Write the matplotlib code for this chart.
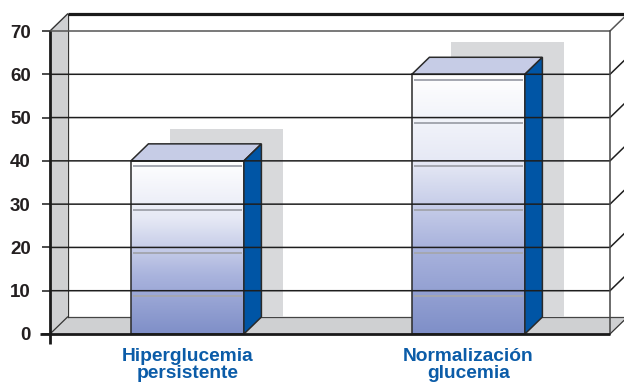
import numpy as np
import matplotlib
matplotlib.use("Agg")
import matplotlib.pyplot as plt
from matplotlib.patches import Polygon, Rectangle
from matplotlib.colors import LinearSegmentedColormap
import matplotlib.transforms as mtransforms

# ---- data ----
categories = ["Hiperglucemia\npersistente", "Normalización\nglucemia"]
values = [40, 60]
yticks = [0, 10, 20, 30, 40, 50, 60, 70]

plt.rcParams['font.family'] = ['Liberation Sans', 'DejaVu Sans']

W_PX, H_PX = 624, 383
fig = plt.figure(figsize=(W_PX / 100, H_PX / 100), dpi=100)
fig.patch.set_facecolor('white')
ax = fig.add_axes([50 / W_PX, 49 / H_PX, 560 / W_PX, 303 / H_PX])
X0, X1 = -0.489, 1.504
YMAX = 70
ax.set_xlim(X0, X1)
ax.set_ylim(0, YMAX)
for s in ax.spines.values():
    s.set_visible(False)
ax.patch.set_visible(False)

# style constants (3D depth in data units)
PX_X = (X1 - X0) / 560.0
PX_Y = YMAX / 303.0
DX = 17.5 * PX_X
DY = 17.0 * PX_Y
BW = 113 * PX_X
SHX = 38.7 * PX_X
SHY = 7.4
WALL = '#CFD0D2'
EDGE = '#2a2a2a'

# floor
ax.add_patch(Polygon([(X0, 0), (X1, 0), (X1 + DX, DY), (X0 + DX, DY)],
                     closed=True, fc=WALL, ec='none', zorder=1, clip_on=False))
# left wall
ax.add_patch(Polygon([(X0, 0), (X0, YMAX), (X0 + DX, YMAX + DY), (X0 + DX, DY)],
                     closed=True, fc=WALL, ec='none', zorder=1, clip_on=False))
# wall edges
ax.plot([X0 + DX, X1 + DX + 0.1], [DY, DY], color='#444444', lw=0.9, zorder=1.5, clip_on=False)
ax.plot([X0 + DX, X0 + DX], [DY, YMAX + DY], color='#333333', lw=0.9, zorder=1.5, clip_on=False)
ax.plot([X0, X0 + DX], [0, DY], color='#333333', lw=0.9, zorder=1.5, clip_on=False)
ax.plot([X1, X1 + DX], [0, DY], color='#333333', lw=0.9, zorder=1.5, clip_on=False)
ax.plot([X0, X0 + DX], [YMAX, YMAX + DY], color='#333333', lw=1.0, zorder=1.5, clip_on=False)
ax.plot([X0 + DX, X1 + DX + 0.1], [YMAX + DY, YMAX + DY], color='#1a1a1a', lw=2.3,
        zorder=1.5, clip_on=False, solid_capstyle='butt')

# shadows
for i, v in enumerate(values):
    ax.add_patch(Rectangle((i - BW / 2 + SHX, DY), BW, v + SHY - DY,
                           fc='#D8D9DB', ec='none', zorder=2))

# bars
cmap = LinearSegmentedColormap.from_list('barg', ['#7F8FC8', '#A9B3DD', '#E6E9F5', '#FFFFFF'])
grad = np.linspace(0, 1, 256).reshape(-1, 1)
for i, v in enumerate(values):
    L, R = i - BW / 2, i + BW / 2
    ax.imshow(grad, cmap=cmap, origin='lower', extent=(L, R, 0, v),
              aspect='auto', zorder=3, interpolation='bilinear')
    # highlight lines
    for g in yticks:
        if 0 < g <= v:
            ax.plot([L + 0.008, R - 0.008], [g - 1.3, g - 1.3], color='#A4A7B0',
                    lw=1.4, zorder=3.5, solid_capstyle='butt')
    ax.add_patch(Rectangle((L, 0), BW, v, fc='none', ec=EDGE, lw=1.1, zorder=3.6))
    ax.add_patch(Polygon([(L, v), (R, v), (R + DX, v + DY), (L + DX, v + DY)],
                         closed=True, fc='#C6CCE6', ec=EDGE, lw=1.1, zorder=3.6))
    ax.add_patch(Polygon([(R, 0), (R, v), (R + DX, v + DY), (R + DX, DY)],
                         closed=True, fc='#0055A5', ec=EDGE, lw=1.1, zorder=3.6))

# gridlines on the front plane with diagonals at right
for g in yticks[1:]:
    col = '#555555' if g == YMAX else '#1e1e1e'
    ax.plot([X0, X1, X1 + DX], [g, g, g + DY], color=col, lw=1.1, zorder=5, clip_on=False)
ax.plot([X1, X1], [0, YMAX], color='#444444', lw=1.1, zorder=5, clip_on=False)

# axes lines
ax.plot([X0 - 10 * PX_X, X1], [0, 0], color='#1a1a1a', lw=2.0, zorder=6, clip_on=False,
        solid_capstyle='butt')
ax.plot([X0, X0], [-10 * PX_Y, YMAX], color='#1a1a1a', lw=2.0, zorder=6, clip_on=False,
        solid_capstyle='butt')

# ticks
ax.set_yticks(yticks)
ax.set_yticklabels([str(t) for t in yticks], fontsize=13.5, fontweight='bold', color='#231F20')
ax.tick_params(axis='y', length=5.8, width=1.1, color='#1a1a1a', pad=8)
ax.set_xticks([])

# category labels
trans = mtransforms.blended_transform_factory(ax.transData, ax.transAxes)
for i, c in enumerate(categories):
    ax.text(i, -14 / 303, c, transform=trans, ha='center', va='top', fontsize=13.8,
            fontweight='bold', color='#0B5CA8', linespacing=1.0)

fig.savefig('out.png', dpi=100)
